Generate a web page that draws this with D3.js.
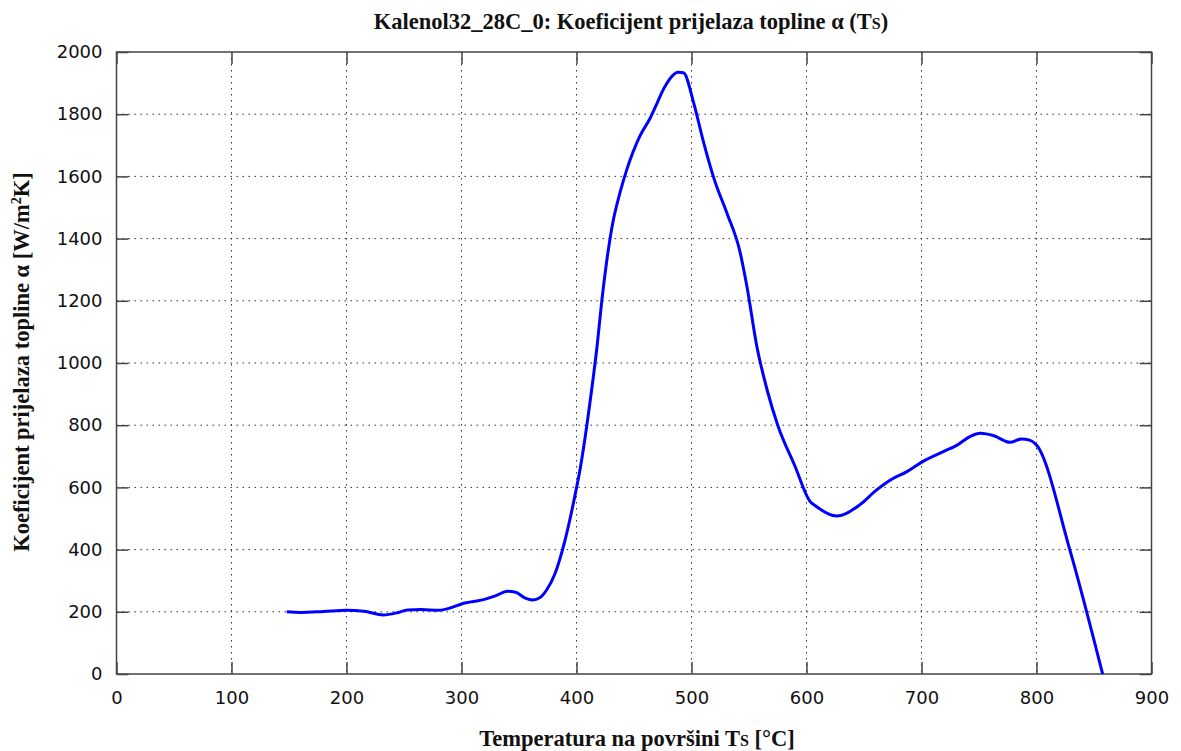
<!DOCTYPE html>
<html><head><meta charset="utf-8">
<script src="https://cdn.jsdelivr.net/npm/d3@7"></script>
<style>body{margin:0;background:#fff}</style>
</head><body>
<svg id="c" width="1181" height="751"></svg>
<script>
const xTicks = [0,100,200,300,400,500,600,700,800,900];
const yTicks = [0,200,400,600,800,1000,1200,1400,1600,1800,2000];
const temps = [148,160,180,200,215,232,245,253,265,280,290,300,320,330,340,347,355,362,368,374,381,390,399,403,412,418,422,426,431,438,444,455,464,470,476,484,488,493,502,510,520,531,542,548,557,566,575,590,603,608,626,646,661,673,687,701,719,731,742,751,763,777,787,794,800,829,857.5];
const alpha = [200,198,201,205,202,190,198,206,207,205,212,225,240,252,266,263,245,238,245,270,320,430,580,656,881,1058,1200,1320,1440,1550,1625,1729,1787,1835,1883,1926,1935,1933,1835,1717,1588,1480,1360,1250,1050,910,800,668,555,540,508,543,592,624,650,683,715,736,763,774,766,745,756,752,736,399,0];
</script>
<script>
const svg = d3.select('#c');
const L=116.5, R=1151.5, T=52, B=674;
const x = d3.scaleLinear().domain([0,900]).range([L,R]);
const y = d3.scaleLinear().domain([0,2000]).range([B,T]);
const data = temps.map((t,i)=>({t, a:alpha[i]}));
const g = svg.append('g');
g.selectAll('.gx').data(xTicks.slice(1,-1)).enter().append('line')
 .attr('x1',d=>x(d)).attr('x2',d=>x(d)).attr('y1',T).attr('y2',B)
 .attr('stroke','#333').attr('stroke-width',1).attr('stroke-dasharray','1.5,4.5');
g.selectAll('.gy').data(yTicks.slice(1,-1)).enter().append('line')
 .attr('x1',L).attr('x2',R).attr('y1',d=>y(d)).attr('y2',d=>y(d))
 .attr('stroke','#333').attr('stroke-width',1).attr('stroke-dasharray','1.5,4.5');
const fontT = 'Tahoma, "DejaVu Sans", Verdana, sans-serif';
const ax = svg.append('g').attr('transform',`translate(0,${B})`)
 .call(d3.axisBottom(x).tickValues(xTicks).tickSize(-12).tickPadding(17));
const ay = svg.append('g').attr('transform',`translate(${L},0)`)
 .call(d3.axisLeft(y).tickValues(yTicks).tickSize(-12).tickPadding(14).tickFormat(d3.format('d')));
const at = svg.append('g').attr('transform',`translate(0,${T})`)
 .call(d3.axisTop(x).tickValues(xTicks).tickSize(-12).tickFormat(''));
const ar = svg.append('g').attr('transform',`translate(${R},0)`)
 .call(d3.axisRight(y).tickValues(yTicks).tickSize(-12).tickFormat(''));
[ax,ay,at,ar].forEach(a=>{
  a.select('.domain').remove();
  a.selectAll('line').attr('stroke','#444').attr('stroke-width',1.5);
  a.selectAll('text').attr('font-family',fontT).attr('font-size',18).attr('fill','#111');
});
svg.append('rect').attr('x',L).attr('y',T).attr('width',R-L).attr('height',B-T)
 .attr('fill','none').attr('stroke','#444').attr('stroke-width',1.5);
const line = d3.line().x(d=>x(d.t)).y(d=>y(d.a)).curve(d3.curveMonotoneX);
svg.append('path').datum(data).attr('d',line).attr('fill','none')
 .attr('stroke','#0000ff').attr('stroke-width',3).attr('stroke-linejoin','round');
const fontS = '"Liberation Serif","Times New Roman",serif';
const title = svg.append('text').attr('x',631).attr('y',29).attr('text-anchor','middle')
 .attr('font-family',fontS).attr('font-weight','bold').attr('font-size',22.5).attr('fill','#111');
title.append('tspan').text('Kalenol32_28C_0: Koeficijent prijelaza topline α (T');
title.append('tspan').attr('font-size',16).text('S');
title.append('tspan').text(')');
const xl = svg.append('text').attr('x',637).attr('y',746).attr('text-anchor','middle')
 .attr('font-family',fontS).attr('font-weight','bold').attr('font-size',22.5).attr('fill','#111');
xl.append('tspan').text('Temperatura na površini T');
xl.append('tspan').attr('font-size',16).text('S');
xl.append('tspan').text(' [°C]');
const yl = svg.append('text').attr('transform','translate(29,362) rotate(-90)').attr('text-anchor','middle')
 .attr('font-family',fontS).attr('font-weight','bold').attr('font-size',22.5).attr('fill','#111');
yl.append('tspan').text('Koeficijent prijelaza topline α [W/m');
yl.append('tspan').attr('font-size',14).attr('dy',-8).text('2');
yl.append('tspan').attr('dy',8).text('K]');
</script>
</body></html>
